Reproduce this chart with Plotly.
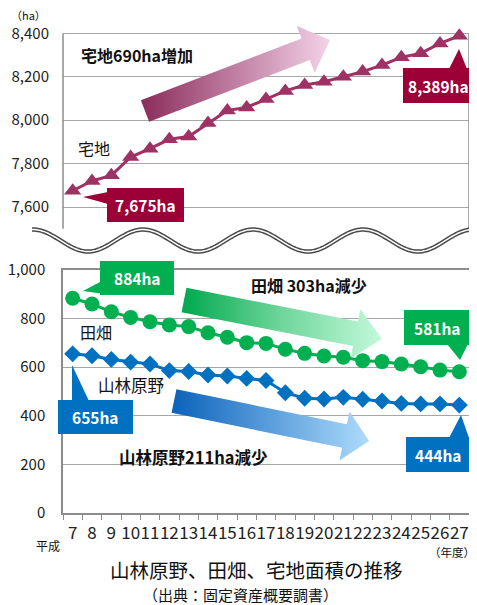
import math
import plotly.graph_objects as go

# --- data -------------------------------------------------------------
years = list(range(7, 28))
year_labels = [str(y) for y in years]

takuchi = [7675, 7720, 7746, 7830, 7869, 7912, 7925, 7987, 8045, 8059, 8098,
           8135, 8162, 8177, 8200, 8224, 8254, 8290, 8308, 8354, 8389]
tahata = [884, 860, 828, 805, 787, 774, 767, 742, 723, 701, 698,
          674, 657, 646, 641, 627, 623, 613, 602, 588, 581]
sanrin = [655, 647, 632, 621, 613, 586, 582, 568, 564, 554, 545,
          495, 472, 469, 476, 468, 461, 451, 449, 449, 444]

top_ticks = [7600, 7800, 8000, 8200, 8400]
bottom_ticks = [0, 200, 400, 600, 800, 1000]

# the page body has an 8px margin, so the figure is drawn 8px in from the
# window corner; everything below is laid out in window pixels
OFF = 8
W, H = 477 - OFF, 605 - OFF
FONT = "Noto Sans CJK JP"

C_TAKU = "#9E3264"
C_TAKU_BOX = "#9C0036"
C_GREEN = "#00B050"
C_BLUE = "#0070C0"
GRID = "#A6A6A6"

# window-pixel layout of the two panels
X0, X1 = 63, 469
TOP_PX = (20, 228.7)
BOT_PX = (270, 513)


def px_x(px):
    return 6.5 + (px - X0) * 21 / (X1 - X0)


def px_y1(py):
    return 8400 - (py - 33.4) * 200 / 43.4


def px_y2(py):
    return (513 - py) * 1000 / 243


def paper(px, py):
    return (px - OFF) / W, 1 - (py - OFF) / H


def arrow_poly(S, T, w, h, L):
    dx, dy = T[0] - S[0], T[1] - S[1]
    d = math.hypot(dx, dy)
    ux, uy = dx / d, dy / d
    nx, ny = -uy, ux
    hx, hy = T[0] - L * ux, T[1] - L * uy
    pts = [(S[0] - w * nx, S[1] - w * ny), (hx - w * nx, hy - w * ny),
           (hx - h * nx, hy - h * ny), T, (hx + h * nx, hy + h * ny),
           (hx + w * nx, hy + w * ny), (S[0] + w * nx, S[1] + w * ny)]
    pts.append(pts[0])
    return pts


fig = go.Figure()

# gradient arrows (under the data lines)
arrows = [
    (arrow_poly((145, 111), (330, 40), 11.5, 25, 26), px_y1, "x", "y",
     ["#8A2C5B", "#C07FA3", "#F3D3E7"]),
    (arrow_poly((184, 300), (382, 339), 12.5, 25, 27), px_y2, "x2", "y2",
     ["#00A84E", "#6FD69A", "#C4F9DC"]),
    (arrow_poly((174, 401), (369, 441), 12, 25, 25), px_y2, "x2", "y2",
     ["#0A62BA", "#5B9EDC", "#AEDBFB"]),
]
for pts, fy, xa, ya, cols in arrows:
    fig.add_trace(go.Scatter(
        x=[px_x(p[0]) for p in pts], y=[fy(p[1]) for p in pts],
        xaxis=xa, yaxis=ya, mode="lines", line=dict(width=0),
        fill="toself",
        fillgradient=dict(type="horizontal",
                          colorscale=[[0, cols[0]], [0.5, cols[1]], [1, cols[2]]]),
        hoverinfo="skip", showlegend=False))

# data series
fig.add_trace(go.Scatter(
    x=years, y=takuchi, xaxis="x", yaxis="y", mode="lines+markers",
    line=dict(color=C_TAKU, width=3),
    marker=dict(symbol="triangle-up", size=15, color=C_TAKU),
    name="宅地", showlegend=False))
fig.add_trace(go.Scatter(
    x=years, y=tahata, xaxis="x2", yaxis="y2", mode="lines+markers",
    line=dict(color=C_GREEN, width=3),
    marker=dict(symbol="circle", size=15, color=C_GREEN),
    name="田畑", showlegend=False))
fig.add_trace(go.Scatter(
    x=years, y=sanrin, xaxis="x2", yaxis="y2", mode="lines+markers",
    line=dict(color=C_BLUE, width=3),
    marker=dict(symbol="diamond", size=13, color=C_BLUE),
    name="山林原野", showlegend=False))

xdom = [paper(X0, 0)[0], paper(X1, 0)[0]]
top_dom = [paper(0, TOP_PX[1])[1], paper(0, TOP_PX[0])[1]]
bot_dom = [paper(0, BOT_PX[1])[1], paper(0, BOT_PX[0])[1]]

fig.update_layout(
    width=W, height=H,
    margin=dict(l=0, r=0, t=0, b=0, pad=0, autoexpand=False),
    paper_bgcolor="white", plot_bgcolor="rgba(0,0,0,0)",
    font=dict(family=FONT, color="#222222"),
    xaxis=dict(domain=xdom, anchor="y", range=[6.5, 27.5], showgrid=False,
               showticklabels=False, zeroline=False, showline=False, ticks="",
               automargin=False),
    yaxis=dict(domain=top_dom, anchor="x",
               range=[px_y1(TOP_PX[1]), px_y1(TOP_PX[0])],
               tickvals=top_ticks, ticktext=[f"{v:,}" for v in top_ticks],
               showgrid=True, gridcolor=GRID, gridwidth=1, zeroline=False,
               showline=False, ticks="", ticklabelstandoff=13, automargin=False,
               tickfont=dict(size=15, color="#222222")),
    xaxis2=dict(domain=xdom, anchor="y2", range=[6.5, 27.5],
                tickvals=years, ticktext=year_labels, showgrid=False,
                zeroline=False, showline=True, linecolor="#8C8C8C",
                linewidth=1.5, mirror=True, ticks="", ticklabelstandoff=4,
                tickangle=0, automargin=False,
                minor=dict(tick0=6.5, dtick=1, ticks="outside", ticklen=5,
                           tickcolor="#8C8C8C", showgrid=False),
                tickfont=dict(size=17, color="#222222")),
    yaxis2=dict(domain=bot_dom, anchor="x2",
                range=[0, 1000], tickvals=bottom_ticks,
                ticktext=[f"{v:,}" for v in bottom_ticks],
                showgrid=True, gridcolor=GRID, gridwidth=1, zeroline=False,
                showline=True, linecolor="#8C8C8C", linewidth=1.5, mirror=True,
                ticks="", ticklabelstandoff=13, automargin=False,
                tickfont=dict(size=15, color="#222222")),
)

shapes = []
# axis lines of the top panel
for xp in (X0, X1):
    a = paper(xp, 33.4)
    b = paper(xp, TOP_PX[1])
    shapes.append(dict(type="line", xref="paper", yref="paper",
                       x0=a[0], y0=a[1], x1=b[0], y1=b[1],
                       line=dict(color="#8C8C8C", width=1.5)))

# wavy break line
wave = []
for i in range(0, 221):
    xp = 32 + i * 2
    yp = 240.5 - 11 * math.cos(2 * math.pi * (xp - 33) / 110)
    wave.append(paper(xp, yp))
wpath = "M " + " L ".join(f"{p[0]:.5f},{p[1]:.5f}" for p in wave)
shapes.append(dict(type="path", xref="paper", yref="paper", path=wpath,
                   line=dict(color="#4A4A4A", width=4.5)))
shapes.append(dict(type="path", xref="paper", yref="paper", path=wpath,
                   line=dict(color="white", width=1.5)))

# callouts: box, tail, colour, text
callouts = [
    ((107, 188, 184, 222), [(108, 192), (108, 204), (83, 197)], C_TAKU_BOX, "7,675ha"),
    ((403, 68, 473, 103), [(449, 69), (467, 69), (459, 49)], C_TAKU_BOX, "8,389ha"),
    ((100, 261, 174, 295), [(100, 282), (112, 295), (83, 291)], C_GREEN, "884ha"),
    ((404, 310, 470, 345), [(447, 344), (468, 344), (460, 360)], C_GREEN, "581ha"),
    ((58, 400, 133, 434), [(72, 365), (72, 401), (89, 401)], C_BLUE, "655ha"),
    ((406, 437, 470, 472), [(449, 438), (469, 438), (461, 415)], C_BLUE, "444ha"),
]
annotations = []
for (bx0, by0, bx1, by1), tail, col, txt in callouts:
    p0 = paper(bx0, by1)
    p1 = paper(bx1, by0)
    shapes.append(dict(type="rect", xref="paper", yref="paper",
                       x0=p0[0], y0=p0[1], x1=p1[0], y1=p1[1],
                       fillcolor=col, line=dict(width=0)))
    tp = [paper(*t) for t in tail]
    path = "M " + " L ".join(f"{p[0]:.5f},{p[1]:.5f}" for p in tp) + " Z"
    shapes.append(dict(type="path", xref="paper", yref="paper", path=path,
                       fillcolor=col, line=dict(width=0)))
    c = paper((bx0 + bx1) / 2, (by0 + by1) / 2)
    annotations.append(dict(x=c[0], y=c[1], xref="paper", yref="paper",
                            xanchor="center", yanchor="middle",
                            text=f"<b>{txt}</b>", showarrow=False,
                            font=dict(size=15.5, color="white", family=FONT)))

labels = [
    (137, 55, "<b>宅地690ha増加</b>", 16),
    (94, 148, "宅地", 16),
    (309, 285, "<b>田畑 303ha減少</b>", 16),
    (96, 332, "田畑", 16),
    (131, 385, "山林原野", 16.5),
    (193, 457, "<b>山林原野211ha減少</b>", 16.5),
    (28, 15, "（ha）", 11),
    (48, 545, "平成", 12),
    (452, 552, "（年度）", 11.5),
    (256, 569, "山林原野、田畑、宅地面積の推移", 19.5),
    (240, 594, "（出典：固定資産概要調書）", 15),
]
for xp, yp, txt, sz in labels:
    p = paper(xp, yp)
    annotations.append(dict(x=p[0], y=p[1], xref="paper", yref="paper",
                            xanchor="center", yanchor="middle",
                            text=txt, showarrow=False,
                            font=dict(size=sz, color="#111111", family=FONT)))

fig.update_layout(shapes=shapes, annotations=annotations)

fig.write_html("out.html")
